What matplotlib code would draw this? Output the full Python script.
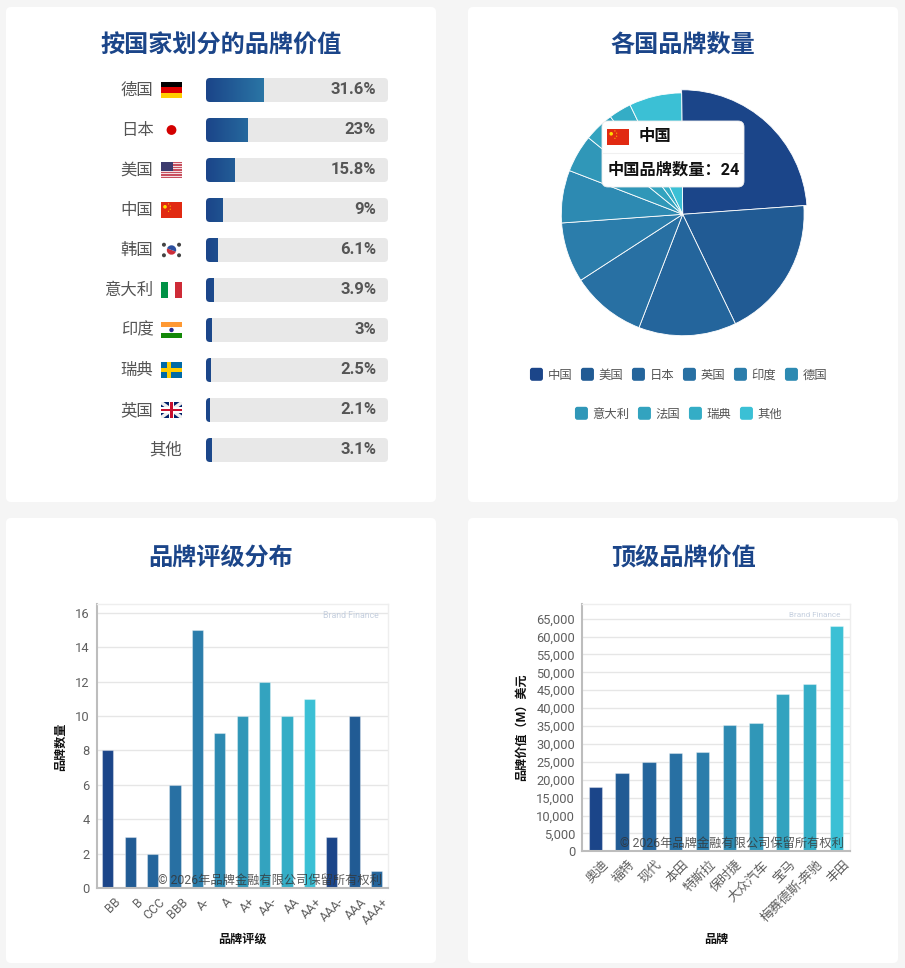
import matplotlib
matplotlib.use("Agg")
import matplotlib.pyplot as plt
from matplotlib.patches import FancyBboxPatch, Rectangle, Circle, Polygon, Wedge
from matplotlib.colors import LinearSegmentedColormap
from matplotlib.transforms import ScaledTranslation
import numpy as np

plt.rcParams['font.family'] = ['Roboto', 'Noto Sans CJK SC', 'DejaVu Sans']

# value by country
country_names = ['德国', '日本', '美国', '中国', '韩国', '意大利', '印度', '瑞典', '英国', '其他']
country_values = [31.6, 23, 15.8, 9, 6.1, 3.9, 3, 2.5, 2.1, 3.1]
country_flags = ['de', 'jp', 'us', 'cn', 'kr', 'it', 'in', 'se', 'gb', None]

# brand count by country
pie_names = ['中国', '美国', '日本', '英国', '印度', '德国', '意大利', '法国', '瑞典', '其他']
pie_values = [24, 19, 13, 10, 8, 7, 5, 4, 3, 7]

# ratings
rating_names = ['BB', 'B', 'CCC', 'BBB', 'A-', 'A', 'A+', 'AA-', 'AA', 'AA+', 'AAA-', 'AAA', 'AAA+']
rating_values = [8, 3, 2, 6, 15, 9, 10, 12, 10, 11, 3, 10, 1]

# top brands
brand_names = ['奥迪', '福特', '现代', '本田', '特斯拉', '保时捷', '大众汽车', '宝马', '梅赛德斯-奔驰', '丰田']
brand_values = [18000, 22000, 25000, 27600, 27700, 35300, 35900, 43900, 46700, 62900]

palette = ['#1b4589', '#215b94', '#24659c', '#2870a3', '#2b7dab',
           '#2d8ab2', '#3097b8', '#33a3bf', '#34adc6', '#3bc0d5']

BLUE = '#1b4589'
TEXT = '#555555'
W, H = 905, 968

fig = plt.figure(figsize=(W / 100, H / 100), dpi=100, facecolor='#f5f5f5')


def px_axes(x0, y0, x1, y1, zorder=1):
    return fig.add_axes([x0 / W, 1 - y1 / H, (x1 - x0) / W, (y1 - y0) / H], zorder=zorder)


def full_axes(zorder):
    a = fig.add_axes([0, 0, 1, 1], zorder=zorder)
    a.set_xlim(0, W)
    a.set_ylim(H, 0)
    a.axis('off')
    a.patch.set_alpha(0)
    return a


def round_box(a, x, y, w, h, r, **kw):
    kw.setdefault('linewidth', 0)
    p = FancyBboxPatch((x, y), w, h, boxstyle=f'round,pad=0,rounding_size={r}', **kw)
    a.add_patch(p)
    return p


def draw_flag(a, code, x, y, w=21, h=16):
    def rect(fx, fy, fw, fh, c):
        a.add_patch(Rectangle((x + fx * w, y + fy * h), fw * w, fh * h, color=c, lw=0))

    def circ(fx, fy, r, c):
        a.add_patch(Circle((x + fx * w, y + fy * h), r, color=c, lw=0))

    if code == 'de':
        rect(0, 0, 1, 1 / 3, '#000000')
        rect(0, 1 / 3, 1, 1 / 3, '#dd0000')
        rect(0, 2 / 3, 1, 1 / 3, '#ffce00')
    elif code == 'jp':
        circ(.5, .5, 4.9, '#d30000')
    elif code == 'us':
        rect(0, 0, 1, 1, '#f3dfe2')
        for i in range(0, 13, 2):
            rect(0, i / 13, 1, 1 / 13, '#c8505f')
        rect(0, 0, .55, 7 / 13, '#3c3b6e')
    elif code == 'cn':
        rect(0, 0, 1, 1, '#e12a12')
        circ(.19, .3, 1.8, '#ffde00')
        for fx, fy in [(.36, .12), (.44, .26), (.44, .45), (.36, .58)]:
            circ(fx, fy, .55, '#ffde00')
    elif code == 'kr':
        a.add_patch(Wedge((x + w / 2, y + h / 2), 4.7, 20, 200, color='#cd2e3a', lw=0))
        a.add_patch(Wedge((x + w / 2, y + h / 2), 4.7, 200, 380, color='#2c4f9e', lw=0))
        for fx, fy in [(.14, .17), (.86, .17), (.14, .83), (.86, .83)]:
            circ(fx, fy, 2.0, '#444444')
    elif code == 'it':
        rect(0, 0, 1 / 3, 1, '#009246')
        rect(2 / 3, 0, 1 / 3, 1, '#ce2b37')
    elif code == 'in':
        rect(0, 0, 1, 1 / 3, '#ff9933')
        rect(0, 2 / 3, 1, 1 / 3, '#138808')
        circ(.5, .5, 2.2, '#2b2b8c')
    elif code == 'se':
        rect(0, 0, 1, 1, '#006aa7')
        rect(.29, 0, .2, 1, '#fecc00')
        rect(0, .4, 1, .2, '#fecc00')
    elif code == 'gb':
        rect(0, 0, 1, 1, '#012169')
        for pts in ([(0, 0), (2.5, 0), (21, 13.5), (21, 16), (18.5, 16), (0, 2.5)],
                    [(21, 0), (18.5, 0), (0, 13.5), (0, 16), (2.5, 16), (21, 2.5)]):
            a.add_patch(Polygon([(x + u, y + v) for u, v in pts], color='#f0f0f0', lw=0))
        rect(.38, 0, .24, 1, '#ffffff')
        rect(0, .33, 1, .34, '#ffffff')
        rect(.44, 0, .12, 1, '#c8102e')
        rect(0, .41, 1, .18, '#c8102e')


def style_bar_axes(a, yticks, names, xsize):
    a.set_facecolor('none')
    a.set_xlim(-.5, len(names) - .5)
    a.set_yticks(yticks)
    a.grid(axis='y', color='#e6e6e6', lw=1)
    a.set_axisbelow(True)
    for s in ('top', 'right'):
        a.spines[s].set_color('#eeeeee')
        a.spines[s].set_linewidth(1)
    for s in ('left', 'bottom'):
        a.spines[s].set_color('#bdbdbd')
        a.spines[s].set_linewidth(1.5)
    a.tick_params(axis='y', length=0, labelsize=9.3, labelcolor='#5f5f5f', pad=5)
    a.tick_params(axis='x', length=0, labelcolor='#5f5f5f', pad=5)
    a.set_xticks(range(len(names)))
    labels = a.set_xticklabels(names, rotation=45, ha='right', va='top', rotation_mode='anchor', fontsize=xsize)
    # labels sit a little right of the tick
    shift = ScaledTranslation(6 / 100, 0, fig.dpi_scale_trans)
    for lab in labels:
        lab.set_transform(lab.get_transform() + shift)


# cards and titles
bg = full_axes(0)
for cx, cy, cw, ch in [(6, 7, 430, 495), (468, 7, 430, 495), (6, 518, 430, 445), (468, 518, 430, 445)]:
    round_box(bg, cx, cy, cw, ch, 5, facecolor='white')
for tx, ty, s in [(221, 46.5, '按国家划分的品牌价值'), (683, 46.5, '各国品牌数量'),
                  (221, 558.5, '品牌评级分布'), (683, 558.5, '顶级品牌价值')]:
    bg.text(tx, ty, s, ha='center', va='center', fontsize=17.4, fontweight='bold', color=BLUE)

top = full_axes(5)

# top left: progress bars
ax1 = px_axes(206, 70, 388, 470)
ax1.set_xlim(0, 100)
ax1.set_ylim(len(country_names) - .5, -.5)
ax1.axis('off')
asp = (1 / 40) / (100 / 182)
grad = LinearSegmentedColormap.from_list('g', ['#1b4589', '#2a75a5'])
for i, (name, v, flag) in enumerate(zip(country_names, country_values, country_flags)):
    track = FancyBboxPatch((0, i - .3), 100, .6, boxstyle='round,pad=0,rounding_size=2.2',
                           mutation_aspect=asp, linewidth=0, facecolor='#e8e8e8')
    ax1.add_patch(track)
    im = ax1.imshow(np.linspace(0, v / 31.6, 50).reshape(1, -1), extent=(0, v, i + .3, i - .3),
                    aspect='auto', cmap=grad, vmin=0, vmax=1, zorder=2)
    im.set_clip_path(track)
    ax1.text(93.5, i, f'{v}%', ha='right', va='center', fontsize=12, fontweight='bold', color=TEXT, zorder=3)
    row_y = 70 + 40 * i + 20
    if flag:
        draw_flag(top, flag, 161, row_y - 8)
        top.text(153.5, row_y, name, ha='right', va='center', fontsize=11.8, color=TEXT)
    else:
        top.text(182.5, row_y, name, ha='right', va='center', fontsize=11.8, color=TEXT)
ax1.set_xlim(0, 100)
ax1.set_ylim(len(country_names) - .5, -.5)

# top right: pie
r_px = 121.4
ax2 = px_axes(682.7 - 1.1 * r_px, 214.3 - 1.1 * r_px, 682.7 + 1.1 * r_px, 214.3 + 1.1 * r_px)
wedges, _ = ax2.pie(pie_values, colors=palette, startangle=90.5, counterclock=False, radius=1,
                    wedgeprops={'edgecolor': 'white', 'linewidth': 0.6})
wedges[0].set_radius(124.5 / r_px)
ax2.set_xlim(-1.1, 1.1)
ax2.set_ylim(-1.1, 1.1)

# legend, two rows
for row, ly in [(range(0, 6), 374.3), (range(6, 10), 413.3)]:
    widths = [17.5 + 12 * len(pie_names[k]) + 9.5 for k in row]
    lx = 678.2 - (sum(widths) - 9.5) / 2
    for k, wd in zip(row, widths):
        round_box(bg, lx, ly - 6.5, 13, 13, 2.5, facecolor=palette[k])
        bg.text(lx + 17.5, ly + 1, pie_names[k], va='center', ha='left', fontsize=8.9, color=TEXT)
        lx += wd

# tooltip
round_box(top, 602, 121, 142, 66, 6, facecolor='white', edgecolor='#eeeeee', linewidth=.6)
draw_flag(top, 'cn', 607, 129, 22, 16)
top.plot([603, 743], [153, 153], color='#f0f0f0', lw=0.8)
top.text(639, 137, '中国', va='center', ha='left', fontsize=11.8, fontweight='bold', color='#111111')
top.text(607.5, 170, f'中国品牌数量：{pie_values[0]}', va='center', ha='left', fontsize=11.7,
         fontweight='bold', color='#111111')
top.set_xlim(0, W)
top.set_ylim(H, 0)

# bottom left: ratings
ax3 = px_axes(96.7, 604, 387.7, 888.3)
rating_colors = [palette[i % 10] for i in range(len(rating_names))]
ax3.bar(range(len(rating_names)), rating_values, width=.5, color=rating_colors,
        edgecolor=(1, 1, 1, .35), linewidth=.8, zorder=2)
style_bar_axes(ax3, range(0, 17, 2), rating_names, 9)
ax3.set_ylim(0, 16.5)

# bottom right: top brands
ax4 = px_axes(582, 604, 849.7, 851.3)
ax4.bar(range(len(brand_names)), brand_values, width=.5, color=palette,
        edgecolor=(1, 1, 1, .35), linewidth=.8, zorder=2)
style_bar_axes(ax4, range(0, 65001, 5000), brand_names, 9.3)
ax4.set_yticklabels([f'{v:,}' for v in range(0, 65001, 5000)])
ax4.set_ylim(0, 69100)

# axis titles, watermarks, copyright
top.text(60.5, 747, '品牌数量', rotation=90, ha='center', va='center', fontsize=8.7, fontweight='bold', color='#111111')
top.text(242.5, 939, '品牌评级', ha='center', va='center', fontsize=8.7, fontweight='bold', color='#111111')
top.text(521.5, 727.5, '品牌价值（M）美元', rotation=90, ha='center', va='center', fontsize=8.7, fontweight='bold', color='#111111')
top.text(716, 939, '品牌', ha='center', va='center', fontsize=8.7, fontweight='bold', color='#111111')
top.text(350.5, 615, 'Brand Finance', ha='center', va='center', fontsize=6.3, color='#c6d0df')
top.text(814.5, 615, 'Brand Finance', ha='center', va='center', fontsize=5.9, color='#c6d0df')
top.text(270, 880.7, '© 2026年品牌金融有限公司保留所有权利', ha='center', va='center', fontsize=8.85, color='#333333', alpha=.8)
top.text(731.5, 843.7, '© 2026年品牌金融有限公司保留所有权利', ha='center', va='center', fontsize=8.85, color='#333333', alpha=.8)

fig.savefig('out.png', dpi=100, facecolor=fig.get_facecolor())
